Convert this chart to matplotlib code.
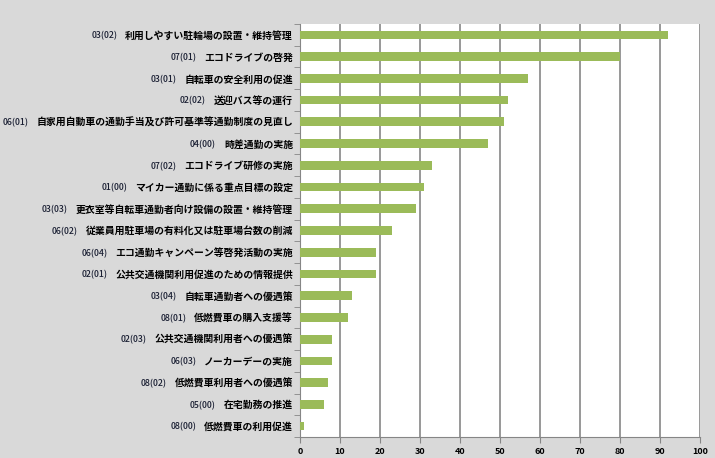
import matplotlib
matplotlib.use('Agg')
import matplotlib.pyplot as plt
import numpy as np

codes = ['03(02)', '07(01)', '03(01)', '02(02)', '06(01)', '04(00)', '07(02)', '01(00)',
         '03(03)', '06(02)', '06(04)', '02(01)', '03(04)', '08(01)', '02(03)', '06(03)',
         '08(02)', '05(00)', '08(00)']
names = ['利用しやすい駐輪場の設置・維持管理', 'エコドライブの啓発', '自転車の安全利用の促進',
         '送迎バス等の運行', '自家用自動車の通勤手当及び許可基準等通勤制度の見直し',
         '時差通勤の実施', 'エコドライブ研修の実施', 'マイカー通勤に係る重点目標の設定',
         '更衣室等自転車通勤者向け設備の設置・維持管理', '従業員用駐車場の有料化又は駐車場台数の削減',
         'エコ通勤キャンペーン等啓発活動の実施', '公共交通機関利用促進のための情報提供',
         '自転車通勤者への優遇策', '低燃費車の購入支援等', '公共交通機関利用者への優遇策',
         'ノーカーデーの実施', '低燃費車利用者への優遇策', '在宅勤務の推進', '低燃費車の利用促進']
values = [92, 80, 57, 52, 51, 47, 33, 31, 29, 23, 19, 19, 13, 12, 8, 8, 7, 6, 1]

plt.rcParams['font.family'] = ['Noto Sans CJK JP', 'DejaVu Sans']

fig = plt.figure(figsize=(7.15, 4.58), dpi=100, facecolor='#d9d9d9')
ax = fig.add_axes([300/715, 21/458, 400/715, 413/458])
ax.set_facecolor('white')

y = np.arange(len(values))
ax.barh(y, values, height=0.4, color='#9bbb59', zorder=3)
ax.set_ylim(len(values) - 0.5, -0.5)
ax.set_xlim(0, 100)
ax.set_xticks(range(0, 101, 10))
ax.grid(axis='x', color='#868686', linewidth=1.2, zorder=0)

ax.set_yticks(y)
ax.set_yticklabels(names, fontsize=7.1, fontweight='bold')
ax.tick_params(axis='y', length=0, pad=5)
ax.set_yticks(np.arange(-0.5, len(values), 1), minor=True)
ax.tick_params(axis='y', which='minor', length=4, color='#868686')
ax.tick_params(axis='x', length=4, color='#868686', labelsize=6.5, pad=3)
for lab in ax.get_xticklabels():
    lab.set_fontweight('bold')

for side in ['top', 'right']:
    ax.spines[side].set_visible(False)
for side in ['left', 'bottom']:
    ax.spines[side].set_color('#868686')

# codes placed left of each name
fig.canvas.draw()
r = fig.canvas.get_renderer()
inv = fig.transFigure.inverted()
for lab, code in zip(ax.get_yticklabels(), codes):
    bb = lab.get_window_extent(r)
    x0, y0 = inv.transform((bb.x0 - 8, (bb.y0 + bb.y1) / 2))
    fig.text(x0, y0, code, ha='right', va='center', fontsize=6.3,
             fontweight='medium', color='#1a1f33')

fig.savefig('out.png', dpi=100, facecolor=fig.get_facecolor())
